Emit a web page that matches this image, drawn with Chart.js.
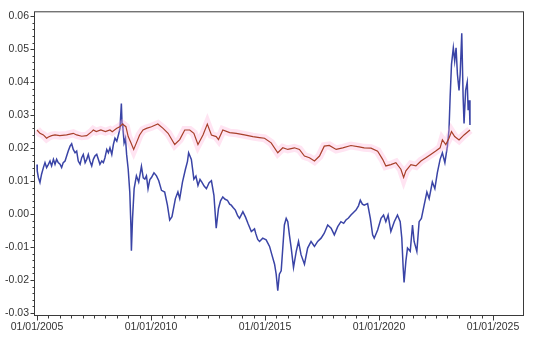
<!DOCTYPE html>
<html>
<head>
<meta charset="utf-8">
<script src="https://cdn.jsdelivr.net/npm/chart.js@4/dist/chart.umd.min.js"></script>
<style>
html, body { margin: 0; padding: 0; background: #fff; }
</style>
</head>
<body>
<canvas id="chart" width="550" height="339"></canvas>
<script>
// ═══════════════════════════════════════════════════════════
// DATA
// ═══════════════════════════════════════════════════════════
const xTickYears = [2005, 2010, 2015, 2020, 2025];
const yTickValues = [-0.03, -0.02, -0.01, 0.00, 0.01, 0.02, 0.03, 0.04, 0.05, 0.06];

// blue series
const blueYears = [
    2005.0, 2005.01, 2005.06, 2005.13, 2005.2, 2005.28, 2005.35, 2005.42, 2005.5, 2005.57,
    2005.64, 2005.72, 2005.79, 2005.86, 2005.93, 2006.01, 2006.08, 2006.15, 2006.23, 2006.3,
    2006.37, 2006.45, 2006.52, 2006.59, 2006.67, 2006.74, 2006.81, 2006.89, 2006.96, 2007.03,
    2007.11, 2007.18, 2007.25, 2007.32, 2007.4, 2007.47, 2007.54, 2007.62, 2007.69, 2007.76,
    2007.84, 2007.91, 2007.98, 2008.06, 2008.13, 2008.2, 2008.28, 2008.35, 2008.42, 2008.5,
    2008.57, 2008.64, 2008.7, 2008.73, 2008.77,
    2008.82, 2008.88, 2008.93, 2009.0, 2009.07, 2009.12, 2009.14, 2009.19, 2009.26, 2009.36,
    2009.46, 2009.58, 2009.66, 2009.73, 2009.8, 2009.87, 2009.95, 2010.02, 2010.13, 2010.24,
    2010.34, 2010.46, 2010.6, 2010.72, 2010.82, 2010.92, 2011.07, 2011.18, 2011.26, 2011.38,
    2011.51, 2011.6, 2011.65, 2011.77, 2011.88, 2011.97, 2012.06, 2012.15, 2012.23, 2012.33,
    2012.43, 2012.55, 2012.65, 2012.76, 2012.86, 2012.96, 2013.05, 2013.15, 2013.25, 2013.35,
    2013.45, 2013.52, 2013.6, 2013.7, 2013.8, 2013.88, 2014.03, 2014.15, 2014.25, 2014.4,
    2014.54, 2014.6, 2014.68, 2014.76, 2014.9, 2015.05, 2015.2, 2015.3, 2015.42, 2015.49,
    2015.56, 2015.63, 2015.71, 2015.78, 2015.85, 2015.93, 2016.0, 2016.07, 2016.15, 2016.25,
    2016.37, 2016.47, 2016.58, 2016.73, 2016.87, 2017.02, 2017.17, 2017.31, 2017.46, 2017.6,
    2017.75, 2017.9, 2018.04, 2018.19, 2018.33, 2018.45, 2018.55, 2018.66, 2018.77, 2018.88,
    2018.99, 2019.1, 2019.18, 2019.27, 2019.35, 2019.5, 2019.62, 2019.72, 2019.79, 2019.94,
    2020.09, 2020.2, 2020.3, 2020.4, 2020.52, 2020.67, 2020.81, 2020.93, 2021.0, 2021.06,
    2021.1, 2021.18, 2021.25, 2021.37, 2021.47, 2021.54, 2021.66, 2021.76, 2021.86, 2021.98,
    2022.1, 2022.2, 2022.34, 2022.45, 2022.56, 2022.68, 2022.78, 2022.89, 2023.0, 2023.07,
    2023.12, 2023.18, 2023.26, 2023.32, 2023.38, 2023.44, 2023.51, 2023.56, 2023.63, 2023.69,
    2023.73, 2023.8, 2023.87, 2023.91, 2023.96, 2023.99
];
const blueVals = [
    0.0150, 0.0131, 0.0111, 0.0096, 0.0121, 0.0141, 0.0156, 0.0141, 0.0151, 0.0161,
    0.0146, 0.0166, 0.0151, 0.0166, 0.0156, 0.0151, 0.0141, 0.0156, 0.0161, 0.0176,
    0.0191, 0.0206, 0.0213, 0.0196, 0.0186, 0.0191, 0.0161, 0.0151, 0.0171, 0.0181,
    0.0156, 0.0166, 0.0181, 0.0161, 0.0146, 0.0166, 0.0176, 0.0181, 0.0166, 0.0151,
    0.0161, 0.0156, 0.0171, 0.0196, 0.0186, 0.0201, 0.0181, 0.0211, 0.0230, 0.0221,
    0.0240, 0.0260, 0.0335, 0.0275, 0.0260,
    0.0216, 0.0230, 0.0181, 0.0136, 0.0066, -0.0040, -0.0111, -0.0013, 0.0077, 0.0116,
    0.0097, 0.0145, 0.0110, 0.0106, 0.0116, 0.0077, 0.0105, 0.0111, 0.0125, 0.0116,
    0.0101, 0.0072, 0.0067, 0.0027, -0.0018, -0.0008, 0.0047, 0.0067, 0.0047, 0.0097,
    0.0136, 0.0160, 0.0186, 0.0166, 0.0106, 0.0115, 0.0087, 0.0105, 0.0097, 0.0085,
    0.0077, 0.0095, 0.0101, 0.0057, -0.0043, 0.0017, 0.0040, 0.0052, 0.0045, 0.0042,
    0.0030, 0.0027, 0.0020, 0.0012, -0.0005, -0.0013, 0.0007, -0.0010, -0.0028, -0.0053,
    -0.0045, -0.0060, -0.0077, -0.0083, -0.0073, -0.0078, -0.0098, -0.0123, -0.0152, -0.0182,
    -0.0232, -0.0182, -0.0172, -0.0103, -0.0033, -0.0013, -0.0023, -0.0063, -0.0103, -0.0162,
    -0.0113, -0.0083, -0.0123, -0.0152, -0.0103, -0.0083, -0.0098, -0.0083, -0.0073, -0.0058,
    -0.0033, -0.0043, -0.0063, -0.0038, -0.0023, -0.0028, -0.0018, -0.0012, -0.0003, 0.0005,
    0.0012, 0.0025, 0.0042, 0.0030, 0.0027, 0.0032, -0.0013, -0.0063, -0.0073, -0.0048,
    -0.0013, -0.0003, -0.0023, -0.0003, -0.0053, -0.0023, -0.0003, -0.0023, -0.0073, -0.0162,
    -0.0207, -0.0142, -0.0103, -0.0113, -0.0033, -0.0083, -0.0113, -0.0023, -0.0013, 0.0027,
    0.0067, 0.0047, 0.0097, 0.0077, 0.0126, 0.0166, 0.0186, 0.0156, 0.0206, 0.0255,
    0.0355, 0.0454, 0.0504, 0.0464, 0.0504, 0.0424, 0.0375, 0.0424, 0.0548, 0.0355,
    0.0275, 0.0375, 0.0400, 0.0315, 0.0345, 0.0270
];

// red series
const redYears = [
    2005.0, 2005.13, 2005.28, 2005.42, 2005.5, 2005.64, 2005.79, 2006.0, 2006.3, 2006.59,
    2006.74, 2006.96, 2007.18, 2007.4, 2007.47, 2007.6, 2007.8, 2008.0, 2008.2, 2008.3,
    2008.5, 2008.63, 2008.75, 2008.9, 2009.0, 2009.12,
    2009.24, 2009.36, 2009.5, 2009.65, 2009.8, 2010.02, 2010.3, 2010.53, 2010.75, 2011.04,
    2011.26, 2011.48, 2011.7, 2011.88, 2012.06, 2012.28, 2012.47, 2012.65, 2012.86, 2012.96,
    2013.15, 2013.45, 2013.74, 2014.1, 2014.47, 2014.76, 2014.98, 2015.27, 2015.56, 2015.78,
    2016.0, 2016.29, 2016.51, 2016.73, 2016.95, 2017.17, 2017.39, 2017.6, 2017.82, 2018.12,
    2018.41, 2018.77, 2019.13, 2019.35, 2019.65, 2019.94, 2020.16, 2020.3, 2020.52, 2020.74,
    2020.96, 2021.08, 2021.18, 2021.4, 2021.62, 2021.84, 2022.06, 2022.27, 2022.49, 2022.68,
    2022.78, 2022.93, 2023.07, 2023.18, 2023.32, 2023.51, 2023.73, 2023.99
];
const redVals = [
    0.0255, 0.0245, 0.0240, 0.0230, 0.0234, 0.0238, 0.0240, 0.0238, 0.0240, 0.0245,
    0.0240, 0.0236, 0.0238, 0.0250, 0.0255, 0.0250, 0.0255, 0.0250, 0.0255, 0.0250,
    0.0260, 0.0265, 0.0273, 0.0265, 0.0235, 0.0216,
    0.0196, 0.0216, 0.0240, 0.0255, 0.0260, 0.0265, 0.0273, 0.0260, 0.0245, 0.0211,
    0.0226, 0.0255, 0.0255, 0.0245, 0.0211, 0.0240, 0.0273, 0.0240, 0.0235, 0.0226,
    0.0255, 0.0247, 0.0245, 0.0240, 0.0235, 0.0232, 0.0230, 0.0216, 0.0186, 0.0201,
    0.0196, 0.0201, 0.0196, 0.0176, 0.0171, 0.0161, 0.0176, 0.0206, 0.0208, 0.0196,
    0.0201, 0.0208, 0.0204, 0.0201, 0.0200, 0.0191, 0.0166, 0.0146, 0.0150, 0.0156,
    0.0136, 0.0111, 0.0131, 0.0150, 0.0146, 0.0161, 0.0171, 0.0181, 0.0191, 0.0201,
    0.0225, 0.0211, 0.0230, 0.0250, 0.0235, 0.0225, 0.0240, 0.0255
];

const toPoints = (xs, ys) => xs.map((x, i) => ({ x, y: ys[i] }));

// frame + major/minor tick marks, drawn with the scales' own pixel mapping
const frameTicks = {
    id: 'frameTicks',
    afterDraw(chart) {
        const { ctx, chartArea: a, scales: { x, y } } = chart;
        ctx.save();
        ctx.strokeStyle = '#3a3a3a';
        ctx.lineWidth = 1;
        const L = a.left - 0.5, R = a.right + 0.5, T = a.top - 0.5, B = a.bottom + 0.5;
        ctx.strokeRect(L, T, R - L, B - T);

        ctx.beginPath();
        for (let i = 0; i <= 40; i++) {
            const yr = 2005 + i * 0.5;
            const px = Math.round(x.getPixelForValue(yr)) + 0.5;
            const len = i % 10 === 0 ? 5 : 3;
            ctx.moveTo(px, B);
            ctx.lineTo(px, B + len);
        }
        for (let i = 0; i <= 45; i++) {
            const v = -0.03 + i * 0.002;
            const py = Math.round(y.getPixelForValue(v)) + 0.5;
            const len = i % 5 === 0 ? 4 : 2;
            ctx.moveTo(L, py);
            ctx.lineTo(L - len, py);
        }
        ctx.stroke();
        ctx.restore();
    }
};

const tickFont = { family: '"Liberation Sans", Arial, sans-serif', size: 10.5 };

new Chart(document.getElementById('chart'), {
    type: 'line',
    data: {
        datasets: [
            {
                label: 'red',
                data: toPoints(redYears, redVals),
                borderColor: '#a8402a',
                borderWidth: 1.2,
                pointRadius: 0,
                tension: 0,
                order: 0
            },
            {
                label: 'band',
                data: toPoints(redYears, redVals),
                borderColor: 'rgba(255,170,215,0.32)',
                borderWidth: 8,
                borderCapStyle: 'butt',
                pointRadius: 0,
                tension: 0,
                order: 1
            },
            {
                label: 'blue',
                data: toPoints(blueYears, blueVals),
                borderColor: '#3a44a6',
                borderWidth: 1.5,
                pointRadius: 0,
                tension: 0,
                order: 2
            }
        ]
    },
    options: {
        responsive: false,
        animation: false,
        layout: { padding: { top: 7, right: 27, left: 0, bottom: 0 } },
        plugins: { legend: { display: false }, tooltip: { enabled: false } },
        scales: {
            x: {
                type: 'linear',
                min: 2004.912,
                max: 2026.316,
                grid: { display: false, drawTicks: false },
                border: { display: false },
                afterBuildTicks: s => { s.ticks = xTickYears.map(v => ({ value: v })); },
                afterFit: s => { s.height = 24; },
                ticks: {
                    autoSkip: false,
                    maxRotation: 0,
                    padding: 6,
                    color: '#333',
                    font: tickFont,
                    callback: v => '01/01/' + v
                }
            },
            y: {
                min: -0.0306,
                max: 0.06119,
                grid: { display: false, drawTicks: false },
                border: { display: false },
                afterBuildTicks: s => { s.ticks = yTickValues.map(v => ({ value: v })); },
                afterFit: s => { s.width = 35; },
                ticks: {
                    padding: 6,
                    color: '#333',
                    font: tickFont,
                    callback: v => v.toFixed(2)
                }
            }
        }
    },
    plugins: [frameTicks]
});
</script>
</body>
</html>
